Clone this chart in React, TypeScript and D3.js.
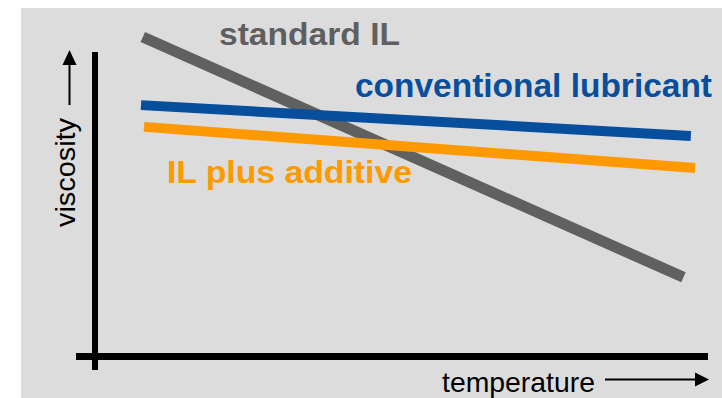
import React from "react";
import * as d3 from "d3";

// Schematic data (temperature 0-100, viscosity 0-100)
const seriesNames = ["standard IL", "conventional lubricant", "IL plus additive"];
const seriesColors = ["#606060", "#074f9d", "#ff9900"];
const temperatureX = [7.8, 96.0];
const standardIL = [99.7, 24.6];
const conventionalX = [7.5, 97.2];
const conventional = [78.4, 68.75];
const additiveX = [8.0, 97.9];
const ilPlusAdditive = [71.6, 58.75];
const strokeWidths = [11, 10, 10];

const W = 722;
const H = 398;

export default function App() {
  const x = d3.scaleLinear().domain([0, 100]).range([95, 708]);
  const y = d3.scaleLinear().domain([0, 100]).range([356, 36]);
  const line = d3
    .line<[number, number]>()
    .x((d) => x(d[0]))
    .y((d) => y(d[1]));

  const series = [
    { xs: temperatureX, ys: standardIL },
    { xs: conventionalX, ys: conventional },
    { xs: additiveX, ys: ilPlusAdditive },
  ];

  const font = "Liberation Sans, Arial, sans-serif";

  return (
    <svg
      width={W}
      height={H}
      style={{ position: "absolute", left: 0, top: 0, display: "block" }}
    >
      <rect x={0} y={0} width={W} height={H} fill="#ffffff" />
      <rect x={21} y={8} width={W - 21} height={H - 8} fill="#dcdcdc" />

      {/* axes */}
      <line x1={95} y1={52} x2={95} y2={370} stroke="#000" strokeWidth={6} />
      <line x1={76} y1={356.5} x2={708} y2={356.5} stroke="#000" strokeWidth={7} />

      {/* series lines */}
      {series.map((s, i) => (
        <path
          key={i}
          d={line(s.xs.map((v, j) => [v, s.ys[j]] as [number, number])) || ""}
          stroke={seriesColors[i]}
          strokeWidth={strokeWidths[i]}
          fill="none"
          strokeLinecap="butt"
        />
      ))}

      {/* series labels */}
      <text
        x={219}
        y={45}
        fontFamily={font}
        fontWeight="bold"
        fontSize={32}
        fill="#5f5f5f"
        textLength={181}
        lengthAdjust="spacingAndGlyphs"
      >
        {seriesNames[0]}
      </text>
      <text
        x={355}
        y={97}
        fontFamily={font}
        fontWeight="bold"
        fontSize={33}
        fill="#074f9d"
        textLength={357}
        lengthAdjust="spacingAndGlyphs"
      >
        {seriesNames[1]}
      </text>
      <text
        x={167}
        y={183}
        fontFamily={font}
        fontWeight="bold"
        fontSize={31}
        fill="#ff9900"
        textLength={245}
        lengthAdjust="spacingAndGlyphs"
      >
        {seriesNames[2]}
      </text>

      {/* y axis label with arrow */}
      <text
        transform="translate(75,227) rotate(-90)"
        fontFamily={font}
        fontSize={28}
        fill="#000"
        textLength={109}
        lengthAdjust="spacingAndGlyphs"
      >
        viscosity
      </text>
      <line x1={69.5} y1={64} x2={69.5} y2={105} stroke="#000" strokeWidth={2} />
      <path d="M69.5,50 L76.5,65 L62.5,65 Z" fill="#000" />

      {/* x axis label with arrow */}
      <text
        x={442}
        y={392}
        fontFamily={font}
        fontSize={28}
        fill="#000"
        textLength={153}
        lengthAdjust="spacingAndGlyphs"
      >
        temperature
      </text>
      <line x1={605} y1={379.5} x2={696} y2={379.5} stroke="#000" strokeWidth={2} />
      <path d="M709,379.5 L695,372.5 L695,386.5 Z" fill="#000" />
    </svg>
  );
}
